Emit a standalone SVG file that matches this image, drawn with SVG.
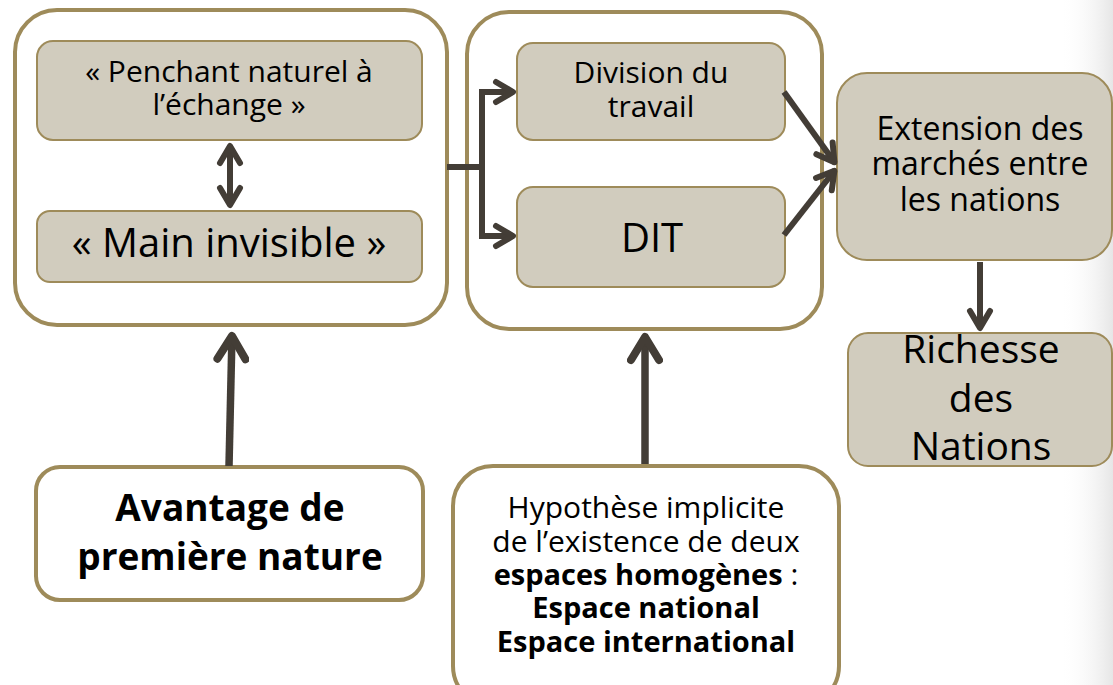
<svg xmlns="http://www.w3.org/2000/svg" width="1113" height="685" viewBox="0 0 1113 685">
  <defs>
    <linearGradient id="edgeShade" x1="0" y1="0" x2="1" y2="0">
      <stop offset="0" stop-color="#ffffff" stop-opacity="0"/>
      <stop offset="1" stop-color="#e6e6e6" stop-opacity="1"/>
    </linearGradient>
    <!-- open chevron heads: regular and heavy -->
    <marker id="head" viewBox="-24 -14 28 28" refX="1" refY="0" markerWidth="28" markerHeight="28" markerUnits="userSpaceOnUse" orient="auto-start-reverse">
      <path d="M-17,-10 L0,0 L-17,10" fill="none" stroke="#433d36" stroke-width="6" stroke-linecap="round" stroke-linejoin="round"/>
    </marker>
    <marker id="headL" viewBox="-30 -18 36 36" refX="1" refY="0" markerWidth="36" markerHeight="36" markerUnits="userSpaceOnUse" orient="auto">
      <path d="M-23,-14 L0,0 L-23,14" fill="none" stroke="#433d36" stroke-width="8" stroke-linecap="round" stroke-linejoin="round"/>
    </marker>
    <style>
      .group { fill: #ffffff; stroke: #9e8b5a; stroke-width: 4; }
      .item { fill: #d1ccbe; stroke: #9e8b5a; stroke-width: 2; }
      .plain { fill: #ffffff; stroke: #9e8b5a; stroke-width: 4; }
      .link { fill: none; stroke: #433d36; stroke-width: 6; stroke-linejoin: miter; }
      .heavy { stroke-width: 7.5; }
      text { font-family: "Open Sans", "Noto Sans", "Liberation Sans", sans-serif; fill: #000000; text-anchor: middle; }
      .bold { font-weight: bold; }
    </style>
  </defs>

  <!-- soft shade along the right edge -->
  <rect x="1060" y="0" width="53" height="685" fill="url(#edgeShade)"/>

  <!-- left container: natural propensity / invisible hand -->
  <g id="cluster-left">
    <rect class="group" x="15" y="10" width="432" height="315" rx="42"/>
  </g>
  <g id="penchant">
    <rect class="item" x="37" y="41" width="385" height="99" rx="16"/>
    <text x="229" y="82" font-size="30">« Penchant naturel à</text>
    <text x="229" y="115" font-size="30">l’échange »</text>
  </g>
  <g id="main-invisible">
    <rect class="item" x="37" y="211" width="385" height="71" rx="13"/>
    <text x="229" y="257" font-size="40">« Main invisible »</text>
  </g>

  <!-- middle container: division of labour -->
  <g id="cluster-middle">
    <rect class="group" x="467" y="12" width="355" height="317" rx="42"/>
  </g>
  <g id="division">
    <rect class="item" x="517" y="43" width="268" height="97" rx="16"/>
    <text x="651" y="83" font-size="30">Division du</text>
    <text x="651" y="117" font-size="30">travail</text>
  </g>
  <g id="dit">
    <rect class="item" x="517" y="187" width="268" height="100" rx="16"/>
    <text x="652" y="252" font-size="40">DIT</text>
  </g>

  <g id="extension">
    <rect class="item" x="837" y="73" width="275" height="187" rx="30"/>
    <text x="980" y="140" font-size="32">Extension des</text>
    <text x="980" y="175" font-size="32">marchés entre</text>
    <text x="980" y="211" font-size="32">les nations</text>
  </g>
  <g id="richesse">
    <rect class="item" x="848" y="333" width="264" height="133" rx="20"/>
    <text x="981" y="363" font-size="39">Richesse</text>
    <text x="981" y="412" font-size="39">des</text>
    <text x="981" y="460" font-size="39">Nations</text>
  </g>

  <g id="avantage">
    <rect class="plain" x="36" y="467" width="387" height="133" rx="24"/>
    <text class="bold" x="230" y="521" font-size="37">Avantage de</text>
    <text class="bold" x="230" y="570" font-size="37">première nature</text>
  </g>

  <g id="hypothese">
    <rect class="plain" x="453" y="466" width="386" height="240" rx="40"/>
    <text x="646" y="518" font-size="30">Hypothèse implicite</text>
    <text x="646" y="552" font-size="30">de l’existence de deux</text>
    <text x="646" y="585" font-size="30"><tspan class="bold" font-size="29">espaces homogènes</tspan> :</text>
    <text class="bold" x="646" y="618" font-size="29">Espace national</text>
    <text class="bold" x="646" y="652" font-size="29">Espace international</text>
  </g>

  <!-- connectors -->
  <g id="connectors">
    <line class="link" x1="230" y1="145" x2="230" y2="206" marker-start="url(#head)" marker-end="url(#head)"/>
    <path class="link" d="M447,167 H482 V92"/>
    <path class="link" d="M482,167 V236"/>
    <path class="link" d="M479,92 H514" marker-end="url(#head)"/>
    <path class="link" d="M479,236 H514" marker-end="url(#head)"/>
    <line class="link" x1="784" y1="92" x2="835" y2="163" marker-end="url(#head)"/>
    <line class="link" x1="784" y1="235" x2="835" y2="170" marker-end="url(#head)"/>
    <line class="link" x1="980" y1="262" x2="980" y2="329" marker-end="url(#head)"/>
    <line class="link heavy" x1="229" y1="466" x2="232" y2="335" marker-end="url(#headL)"/>
    <line class="link heavy" x1="645" y1="464" x2="645" y2="336" marker-end="url(#headL)"/>
  </g>
</svg>
